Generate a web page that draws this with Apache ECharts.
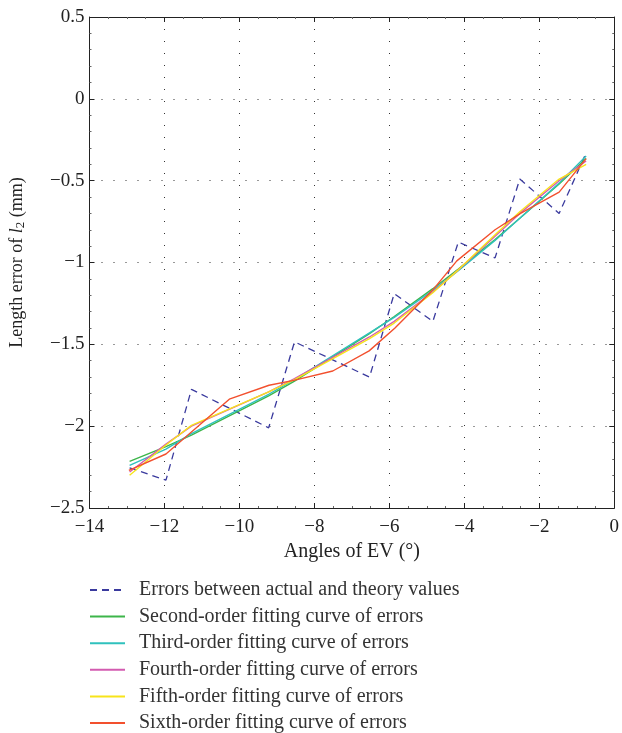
<!DOCTYPE html>
<html><head><meta charset="utf-8">
<script src="https://cdn.jsdelivr.net/npm/echarts@6/dist/echarts.min.js"></script>
<style>html,body{margin:0;padding:0;background:#fff}#c{width:622px;height:733px}</style>
</head><body><div id="c"></div>
<script>
var angles = [-12.93, -11.96, -11.28, -9.22, -8.53, -6.53, -5.87, -4.84, -4.16, -3.18, -2.52, -1.47, -0.75];
var errors = [-2.255, -2.33, -1.775, -2.01, -1.485, -1.70, -1.19, -1.36, -0.875, -0.972, -0.49, -0.70, -0.33];
var fit2 = [-2.215, -2.125, -2.055, -1.815, -1.725, -1.435, -1.33, -1.16, -1.04, -0.86, -0.73, -0.52, -0.365];
var fit3 = [-2.24, -2.14, -2.045, -1.805, -1.715, -1.43, -1.335, -1.17, -1.05, -0.865, -0.73, -0.515, -0.35];
var fit4 = [-2.28, -2.11, -2.0, -1.79, -1.71, -1.455, -1.36, -1.18, -1.045, -0.84, -0.70, -0.50, -0.38];
var fit5 = [-2.30, -2.115, -1.995, -1.79, -1.715, -1.465, -1.37, -1.185, -1.045, -0.83, -0.69, -0.49, -0.40];
var angles6 = [-12.95, -11.96, -10.27, -9.21, -8.55, -7.51, -6.54, -5.85, -4.85, -4.2, -3.18, -2.5, -1.47, -0.75];
var fit6 = [-2.27, -2.17, -1.835, -1.75, -1.72, -1.663, -1.54, -1.40, -1.17, -0.99, -0.80, -0.70, -0.57, -0.365];
var seriesNames = ['Errors between actual and theory values','Second-order fitting curve of errors','Third-order fitting curve of errors','Fourth-order fitting curve of errors','Fifth-order fitting curve of errors','Sixth-order fitting curve of errors'];
var colors = ['#3a3a9e','#3db54a','#2fc1bd','#d35bb0','#f7e41a','#f2502e'];

function pairs(xs, ys){ return xs.map(function(x,i){ return [x, ys[i]]; }); }
var F = 'Liberation Serif, Times New Roman, serif';
function minus(v){ return String(v).replace('-', '\u2212'); }

var chart = echarts.init(document.getElementById('c'), null, {renderer:'canvas'});
var ax = {color:'#222', width:1};
var sets = [pairs(angles,errors), pairs(angles,fit2), pairs(angles,fit3), pairs(angles,fit4), pairs(angles,fit5), pairs(angles6,fit6)];
chart.setOption({
  animation:false,
  color: colors,
  grid:{left:88, right:3, top:17, bottom:225, containLabel:false},
  legend:{
    orient:'vertical', left:89, top:580, padding:0, width:530, height:160, itemWidth:35, itemHeight:20, itemGap:6.6,
    itemStyle:{opacity:0},
    textStyle:{fontFamily:F, fontSize:20, lineHeight:20, color:'#333', padding:[0,0,0,9]},
    data: seriesNames
  },
  xAxis:[{
    type:'value', min:-14, max:0, interval:2,
    name:'Angles of EV (\u00b0)', nameLocation:'middle', nameGap:30,
    nameTextStyle:{fontFamily:F, fontSize:20, color:'#222'},
    axisLine:{show:true, onZero:false, lineStyle:ax},
    axisTick:{show:true, inside:true, length:5, lineStyle:ax},
    minorTick:{show:true, splitNumber:4, length:2, lineStyle:{color:'#666'}},
    axisLabel:{fontFamily:F, fontSize:19, color:'#222', margin:10, formatter:minus},
    splitLine:{show:true, lineStyle:{color:'#333', type:[1,11], width:1}}
  },{
    type:'value', position:'top', min:-14, max:0, interval:2,
    axisLine:{show:true, onZero:false, lineStyle:ax},
    axisTick:{show:true, inside:true, length:5, lineStyle:ax},
    minorTick:{show:true, splitNumber:4, length:2, lineStyle:{color:'#666'}},
    axisLabel:{show:false}, splitLine:{show:false}
  }],
  yAxis:[{
    type:'value', min:-2.5, max:0.5, interval:0.5,
    name:'{a|Length error of }{i|l}{s|2}{a| (mm)}', nameLocation:'middle', nameGap:62, nameRotate:90,
    nameTextStyle:{fontFamily:F, fontSize:18, color:'#222', padding:[0,0,0,0],
      rich:{a:{fontFamily:F, fontSize:18, color:'#222'}, i:{fontFamily:F, fontSize:18, fontStyle:'italic', color:'#222'}, s:{fontFamily:F, fontSize:13, color:'#222', verticalAlign:'bottom', padding:[8,0,0,0]}}},
    axisLine:{show:true, onZero:false, lineStyle:ax},
    axisTick:{show:true, inside:true, length:5, lineStyle:ax},
    minorTick:{show:true, splitNumber:5, length:2, lineStyle:{color:'#666'}},
    axisLabel:{fontFamily:F, fontSize:19, color:'#222', margin:5, formatter:minus},
    splitLine:{show:true, lineStyle:{color:'#333', type:[1,11], width:1}}
  },{
    type:'value', position:'right', min:-2.5, max:0.5, interval:0.5,
    axisLine:{show:true, onZero:false, lineStyle:ax},
    axisTick:{show:true, inside:true, length:5, lineStyle:ax},
    minorTick:{show:true, splitNumber:5, length:2, lineStyle:{color:'#666'}},
    axisLabel:{show:false}, splitLine:{show:false}
  }],
  series: sets.map(function(d,i){
    return {
      name: seriesNames[i], type:'line', data:d, showSymbol:false, symbol:'none', smooth:false,
      lineStyle:{width: i===0 ? 1.3 : 1.4, type: i===0 ? [7,5] : 'solid', color: colors[i]},
      itemStyle:{color: colors[i]}, z: 2+i
    };
  })
});
</script>
</body></html>
